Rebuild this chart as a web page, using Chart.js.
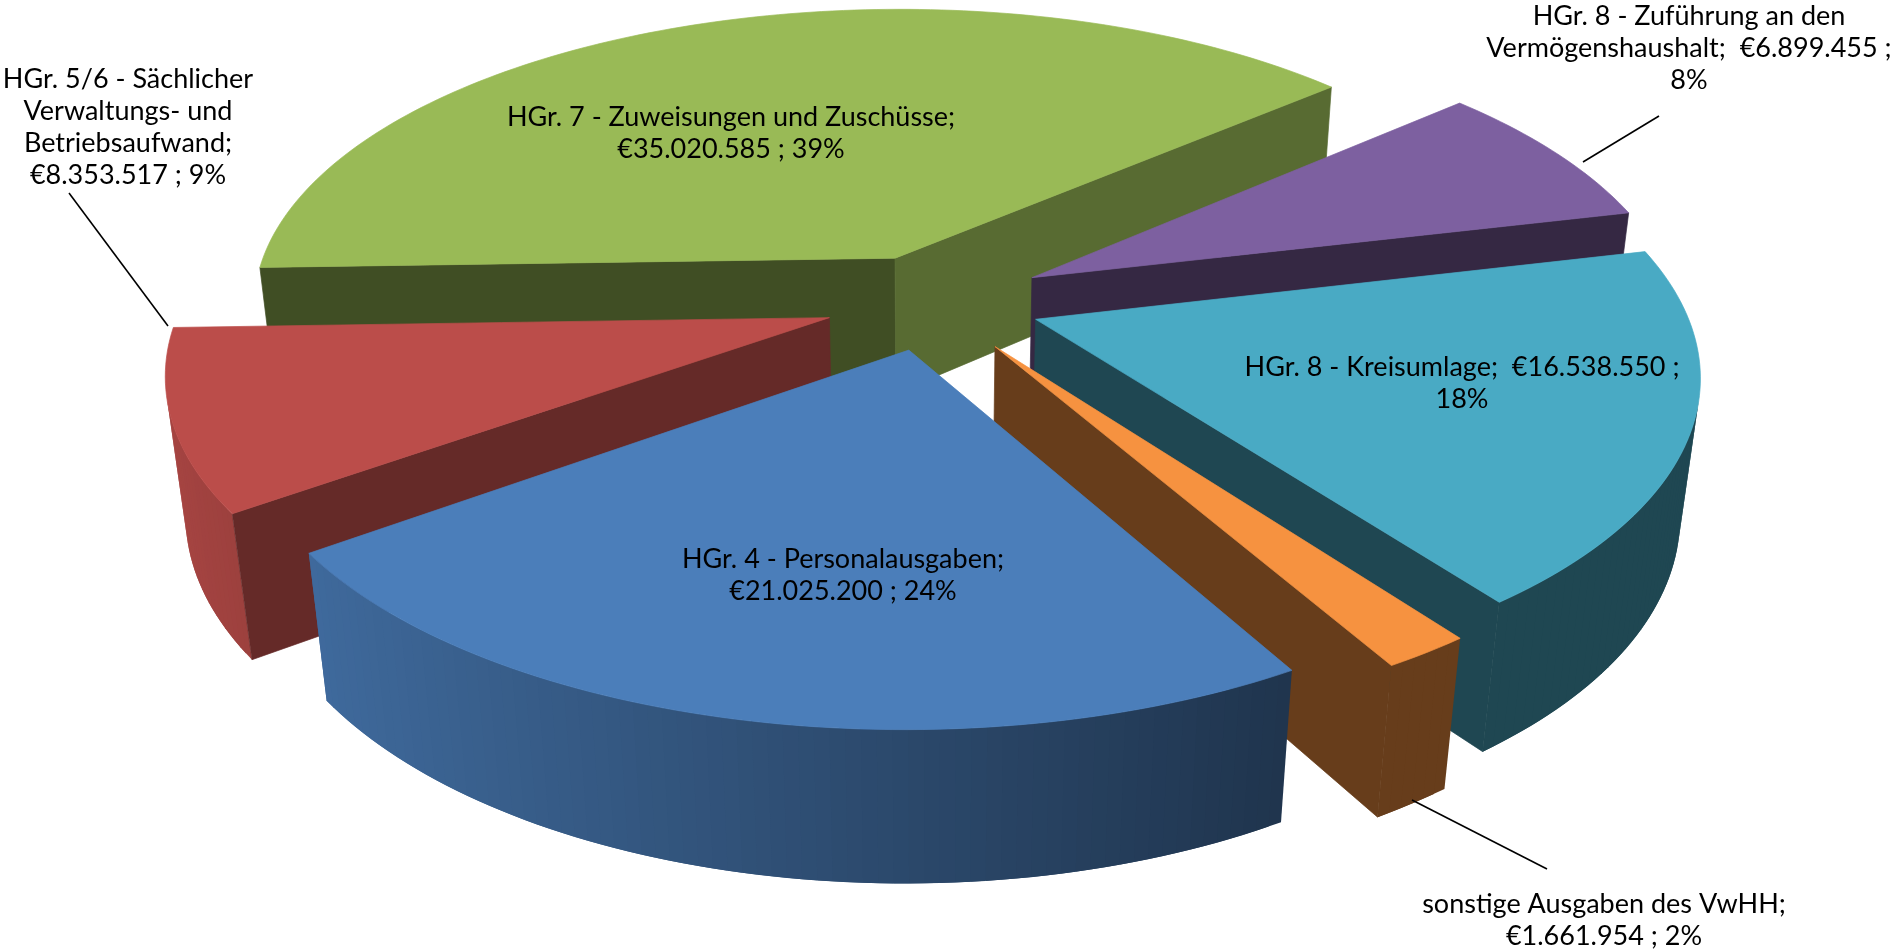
<!DOCTYPE html>
<html>
<head>
<meta charset="utf-8">
<title>Ausgaben Verwaltungshaushalt</title>
<script src="https://cdn.jsdelivr.net/npm/chart.js@4/dist/chart.umd.min.js"></script>
<style>
  html, body { margin: 0; padding: 0; background: #fff; }
  canvas { display: block; }
</style>
</head>
<body>
<canvas id="myChart" width="1892" height="949"></canvas>
<script>
// the values, clockwise as in the picture
var categories = [
  "HGr. 4 - Personalausgaben",
  "HGr. 5/6 - Sächlicher Verwaltungs- und Betriebsaufwand",
  "HGr. 7 - Zuweisungen und Zuschüsse",
  "HGr. 8 - Zuführung an den Vermögenshaushalt",
  "HGr. 8 - Kreisumlage",
  "sonstige Ausgaben des VwHH"
];
var values = [21025200, 8353517, 35020585, 6899455, 16538550, 1661954];
var sliceColors = ["#4b7eba", "#bb4d4a", "#99ba56", "#7d60a0", "#49aac4", "#f69240"];

var labelLines = [
  ["HGr. 4 - Personalausgaben;", "€21.025.200 ; 24%"],
  ["HGr. 5/6 - Sächlicher", "Verwaltungs- und", "Betriebsaufwand;", "€8.353.517 ; 9%"],
  ["HGr. 7 - Zuweisungen und Zuschüsse;", "€35.020.585 ; 39%"],
  ["HGr. 8 - Zuführung an den", "Vermögenshaushalt;  €6.899.455 ;", "8%"],
  ["HGr. 8 - Kreisumlage;  €16.538.550 ;", "18%"],
  ["sonstige Ausgaben des VwHH;", "€1.661.954 ; 2%"]
];

// label centre x and first line centre y
var labelPos = [[843, 559], [128, 79], [731, 117], [1689, 16], [1462, 367], [1604, 904]];
var leaders = [
  [69, 193, 168, 326],
  [1659, 116, 1583, 162],
  [1547, 869, 1412, 800]
];

// camera for the tilted pie
var X0 = 931.5, Y0 = 301.6, A = 647, K = 301.5, P = 0.16;
var DEPTH = 140.5, SHRINK = 0.026;
var explode = [70, 72, 69, 77, 74, 76];
var paintOrder = [2, 3, 1, 4, 5, 0]; // back to front

function project(u, v, low) {
  var w = 1 - P * v + (low ? SHRINK : 0);
  return { x: X0 + A * u / w, y: Y0 + (K * v + (low ? DEPTH : 0)) / w };
}

function shade(hex, f) {
  var n = parseInt(hex.slice(1), 16);
  var r = Math.round((n >> 16) * f), g = Math.round(((n >> 8) & 255) * f), b = Math.round((n & 255) * f);
  return "rgb(" + r + "," + g + "," + b + ")";
}

function fillPoly(ctx, pts, color, noStroke) {
  ctx.beginPath();
  ctx.moveTo(pts[0].x, pts[0].y);
  for (var j = 1; j < pts.length; j++) ctx.lineTo(pts[j].x, pts[j].y);
  ctx.closePath();
  ctx.fillStyle = color;
  ctx.fill();
  if (!noStroke) {
    ctx.strokeStyle = color;
    ctx.lineWidth = 0.7;
    ctx.stroke();
  }
}

// walls are only drawn when turned to the viewer
function fillWall(ctx, pts, color, noStroke) {
  var area = 0;
  for (var i = 0; i < pts.length; i++) {
    var a = pts[i], b = pts[(i + 1) % pts.length];
    area += a.x * b.y - b.x * a.y;
  }
  if (area < 0) fillPoly(ctx, pts, color, noStroke);
}

function outerShade(t) {
  return Math.max(0.42, 0.58 - 0.32 * Math.cos(t));
}

function edgeShade(t) {
  var deg = ((t * 180 / Math.PI) % 360 + 360) % 360;
  return Math.max(0.42, 0.57 - (deg - 50) * 0.006);
}

function drawSlice(ctx, arc) {
  var color = arc.options.backgroundColor;
  var e = arc.options.offset / arc.outerRadius;
  var s = arc.startAngle, t = arc.endAngle, mid = (s + t) / 2;
  var ox = e * Math.cos(mid), oy = e * Math.sin(mid);
  var steps = Math.ceil((t - s) / 0.02);
  var rim = [], i;
  for (i = 0; i <= steps; i++) {
    var ang = s + (t - s) * i / steps;
    rim.push({ u: ox + Math.cos(ang), v: oy + Math.sin(ang), ang: ang });
  }
  // curved wall, strips overlap the next one so no seams show
  for (i = 0; i < steps; i++) {
    var p = rim[i], q = rim[Math.min(i + 2, steps)];
    fillWall(ctx, [project(p.u, p.v), project(q.u, q.v), project(q.u, q.v, true), project(p.u, p.v, true)],
      shade(color, outerShade(p.ang)), true);
  }
  // the two straight walls
  var first = rim[0], last = rim[steps];
  fillWall(ctx, [project(ox, oy), project(first.u, first.v), project(first.u, first.v, true), project(ox, oy, true)],
    shade(color, edgeShade(s - Math.PI / 2)));
  fillWall(ctx, [project(ox, oy, true), project(last.u, last.v, true), project(last.u, last.v), project(ox, oy)],
    shade(color, edgeShade(t + Math.PI / 2)));
  // top face
  var top = [project(ox, oy)];
  for (i = 0; i <= steps; i++) top.push(project(rim[i].u, rim[i].v));
  fillPoly(ctx, top, color);
}

var pie3d = {
  id: "pie3d",
  beforeDatasetsDraw: function (chart) {
    var arcs = chart.getDatasetMeta(0).data;
    paintOrder.forEach(function (i) { drawSlice(chart.ctx, arcs[i]); });
    return false;
  },
  afterDraw: function (chart) {
    var ctx = chart.ctx;
    ctx.save();
    ctx.strokeStyle = "#000";
    ctx.lineWidth = 1.6;
    leaders.forEach(function (l) {
      ctx.beginPath();
      ctx.moveTo(l[0], l[1]);
      ctx.lineTo(l[2], l[3]);
      ctx.stroke();
    });
    ctx.fillStyle = "#000";
    ctx.font = "27px Lato";
    ctx.textAlign = "center";
    ctx.textBaseline = "middle";
    labelLines.forEach(function (lines, i) {
      lines.forEach(function (line, k) {
        ctx.fillText(line, labelPos[i][0], labelPos[i][1] + k * 32);
      });
    });
    ctx.restore();
  }
};

new Chart("myChart", {
  type: "pie",
  data: {
    labels: categories,
    datasets: [{
      data: values,
      backgroundColor: sliceColors,
      borderWidth: 0,
      offset: explode
    }]
  },
  options: {
    responsive: false,
    animation: false,
    rotation: 150,
    plugins: { legend: { display: false }, tooltip: { enabled: false } }
  },
  plugins: [pie3d]
});
</script>
</body>
</html>
